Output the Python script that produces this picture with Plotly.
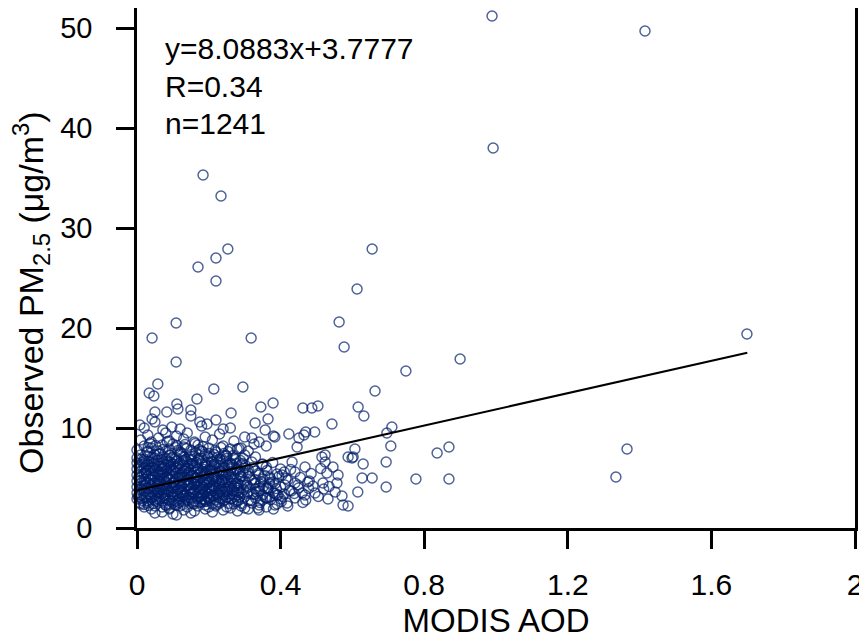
import plotly.graph_objects as go

# ---- data ----
outliers = [(0.989, 51.2), (1.415, 49.7), (0.992, 38.0), (0.184, 35.3), (0.234, 33.2),
            (0.253, 27.9), (0.655, 27.9), (0.170, 26.1), (0.220, 27.0), (0.220, 24.7),
            (0.613, 23.9), (0.563, 20.6), (0.109, 20.5), (0.042, 19.0), (0.318, 19.0),
            (0.577, 18.1), (1.699, 19.4), (0.900, 16.9), (0.109, 16.6), (0.749, 15.7),
            (0.663, 13.7), (0.214, 13.9), (0.295, 14.1), (1.365, 7.9), (1.334, 5.1),
            (0.836, 7.5), (0.869, 8.1), (0.869, 4.9), (0.777, 4.9), (0.694, 4.1)]

fringe = [(0.058, 14.4), (0.034, 13.5), (0.047, 13.2), (0.167, 12.9), (0.111, 12.4),
          (0.114, 11.9), (0.150, 11.8), (0.262, 11.5), (0.345, 12.1), (0.379, 12.5),
          (0.462, 12.0), (0.050, 11.6), (0.083, 11.6), (0.042, 10.9), (0.150, 11.2),
          (0.175, 10.6), (0.195, 10.4), (0.329, 10.5), (0.365, 10.9), (0.357, 9.8),
          (0.008, 10.3), (0.097, 10.1), (0.072, 9.8), (0.240, 9.9), (0.300, 9.1),
          (0.423, 9.4), (0.465, 9.3), (0.02, 10.0), (0.05, 10.6), (0.12, 9.9),
          (0.18, 10.2), (0.22, 10.8), (0.26, 10.0)]

tail = [(0.487, 12.0), (0.504, 12.2), (0.470, 9.6), (0.495, 9.6), (0.451, 9.0),
        (0.384, 9.1), (0.279, 7.9), (0.326, 8.4), (0.446, 8.1), (0.515, 7.1),
        (0.418, 2.5), (0.384, 2.3), (0.362, 3.0), (0.337, 2.0), (0.468, 3.3),
        (0.496, 3.5), (0.448, 4.3), (0.476, 4.6), (0.404, 5.3), (0.440, 5.6),
        (0.468, 6.1), (0.432, 6.6), (0.412, 4.3), (0.365, 4.0), (0.393, 3.3),
        (0.616, 12.1), (0.632, 11.2), (0.543, 10.4), (0.710, 10.1), (0.696, 9.5),
        (0.707, 8.2), (0.607, 7.9), (0.588, 7.1), (0.602, 7.1), (0.599, 7.0),
        (0.630, 6.4), (0.694, 6.6), (0.627, 5.0), (0.655, 5.0), (0.615, 3.6),
        (0.552, 3.6), (0.532, 2.9), (0.571, 3.2), (0.574, 2.3), (0.588, 2.2),
        (0.560, 5.3), (0.546, 6.1), (0.524, 7.3), (0.529, 5.5), (0.557, 4.5),
        (0.518, 4.5), (0.524, 6.6)]

core = [
    (0.04, 1.9), (0.07, 1.6), (0.10, 1.4), (0.11, 1.3), (0.13, 1.8), (0.16, 1.7), (0.19, 1.9),
    (0.21, 1.6), (0.24, 1.8), (0.28, 1.7), (0.31, 1.9), (0.05, 1.5), (0.15, 1.5), (0.26, 2.0),
    (0.09, 1.9), (0.34, 1.8), (0.38, 1.9),
    (0.01, 2.4), (0.02, 2.1), (0.03, 2.5), (0.05, 2.2), (0.06, 2.6), (0.08, 2.3), (0.09, 2.0),
    (0.10, 2.5), (0.12, 2.2), (0.13, 2.6), (0.14, 2.1), (0.16, 2.4), (0.17, 2.2), (0.18, 2.6),
    (0.20, 2.1), (0.21, 2.4), (0.22, 2.2), (0.23, 2.5), (0.25, 2.1), (0.27, 2.4), (0.29, 2.2),
    (0.30, 2.0), (0.32, 2.5), (0.34, 2.3), (0.36, 2.1), (0.39, 2.4), (0.42, 2.2), (0.11, 2.3),
    (0.07, 2.1), (0.19, 2.3),
    (0.00, 2.9), (0.02, 3.1), (0.03, 2.7), (0.04, 3.0), (0.05, 2.8), (0.06, 3.2), (0.07, 2.7),
    (0.08, 3.0), (0.09, 2.8), (0.10, 3.1), (0.11, 2.7), (0.12, 2.9), (0.13, 3.2), (0.14, 2.8),
    (0.15, 3.0), (0.16, 2.7), (0.17, 3.1), (0.18, 2.9), (0.19, 2.7), (0.20, 3.0), (0.21, 3.2),
    (0.22, 2.8), (0.23, 3.0), (0.24, 2.7), (0.25, 3.1), (0.26, 2.9), (0.28, 2.8), (0.30, 3.1),
    (0.31, 2.7), (0.33, 3.0), (0.35, 2.8), (0.37, 3.1), (0.40, 2.9), (0.44, 3.0), (0.47, 2.8),
    (0.36, 3.0),
    (0.00, 3.5), (0.01, 3.3), (0.02, 3.7), (0.03, 3.4), (0.04, 3.6), (0.05, 3.3), (0.06, 3.5),
    (0.07, 3.8), (0.08, 3.4), (0.09, 3.6), (0.10, 3.3), (0.11, 3.7), (0.12, 3.5), (0.13, 3.3),
    (0.14, 3.6), (0.15, 3.4), (0.16, 3.8), (0.17, 3.5), (0.18, 3.3), (0.19, 3.6), (0.20, 3.4),
    (0.21, 3.7), (0.22, 3.5), (0.23, 3.3), (0.24, 3.6), (0.25, 3.4), (0.27, 3.7), (0.28, 3.3),
    (0.29, 3.5), (0.31, 3.6), (0.32, 3.4), (0.34, 3.7), (0.35, 3.3), (0.38, 3.5), (0.41, 3.4),
    (0.43, 3.7), (0.46, 3.5), (0.39, 3.3),
    (0.00, 4.1), (0.01, 3.9), (0.02, 4.3), (0.03, 4.0), (0.04, 4.2), (0.05, 3.9), (0.06, 4.4),
    (0.07, 4.1), (0.08, 3.9), (0.09, 4.2), (0.10, 4.0), (0.11, 4.3), (0.12, 4.1), (0.13, 3.9),
    (0.14, 4.2), (0.15, 4.0), (0.16, 4.4), (0.17, 4.1), (0.18, 3.9), (0.19, 4.3), (0.20, 4.0),
    (0.21, 4.2), (0.22, 3.9), (0.23, 4.4), (0.24, 4.1), (0.25, 3.9), (0.26, 4.2), (0.28, 4.0),
    (0.29, 4.3), (0.31, 4.1), (0.33, 3.9), (0.34, 4.2), (0.36, 4.0), (0.37, 4.4), (0.40, 4.1),
    (0.45, 4.0), (0.49, 4.2), (0.52, 3.9),
    (0.00, 4.7), (0.01, 4.5), (0.02, 4.9), (0.03, 4.6), (0.04, 4.8), (0.05, 4.5), (0.06, 4.7),
    (0.07, 5.0), (0.08, 4.6), (0.09, 4.8), (0.10, 4.5), (0.11, 4.9), (0.12, 4.7), (0.13, 4.5),
    (0.14, 4.8), (0.15, 4.6), (0.16, 5.0), (0.17, 4.7), (0.18, 4.5), (0.19, 4.8), (0.20, 4.6),
    (0.21, 4.9), (0.22, 4.7), (0.23, 4.5), (0.24, 4.8), (0.25, 4.6), (0.27, 4.9), (0.28, 4.5),
    (0.30, 4.7), (0.32, 4.8), (0.33, 4.5), (0.35, 4.9), (0.38, 4.6), (0.42, 4.8), (0.44, 4.5),
    (0.48, 4.7),
    (0.00, 5.3), (0.01, 5.1), (0.02, 5.5), (0.03, 5.2), (0.04, 5.4), (0.05, 5.1), (0.06, 5.6),
    (0.07, 5.3), (0.08, 5.1), (0.09, 5.4), (0.10, 5.2), (0.11, 5.5), (0.12, 5.3), (0.13, 5.1),
    (0.14, 5.4), (0.15, 5.2), (0.16, 5.6), (0.17, 5.3), (0.18, 5.1), (0.19, 5.5), (0.20, 5.2),
    (0.21, 5.4), (0.22, 5.1), (0.23, 5.6), (0.24, 5.3), (0.26, 5.1), (0.27, 5.4), (0.29, 5.2),
    (0.31, 5.5), (0.34, 5.3), (0.37, 5.1), (0.39, 5.4), (0.41, 5.6),
    (0.00, 5.9), (0.01, 5.7), (0.02, 6.1), (0.03, 5.8), (0.04, 6.0), (0.05, 5.7), (0.06, 6.2),
    (0.07, 5.9), (0.08, 5.7), (0.09, 6.0), (0.10, 5.8), (0.11, 6.1), (0.12, 5.9), (0.13, 5.7),
    (0.14, 6.0), (0.15, 5.8), (0.16, 6.2), (0.17, 5.9), (0.18, 5.7), (0.19, 6.1), (0.20, 5.8),
    (0.21, 6.0), (0.23, 5.7), (0.24, 6.1), (0.26, 5.9), (0.28, 5.8), (0.30, 6.0), (0.33, 5.7),
    (0.36, 6.1), (0.40, 5.9),
    (0.00, 6.5), (0.01, 6.3), (0.02, 6.7), (0.03, 6.4), (0.04, 6.6), (0.05, 6.3), (0.06, 6.8),
    (0.07, 6.5), (0.08, 6.3), (0.09, 6.6), (0.10, 6.4), (0.11, 6.7), (0.12, 6.5), (0.13, 6.3),
    (0.14, 6.6), (0.15, 6.4), (0.17, 6.8), (0.18, 6.5), (0.19, 6.3), (0.21, 6.6), (0.22, 6.4),
    (0.24, 6.7), (0.26, 6.5), (0.29, 6.3), (0.32, 6.6), (0.35, 6.4),
    (0.00, 7.0), (0.01, 7.3), (0.02, 6.9), (0.03, 7.2), (0.05, 7.0), (0.06, 7.4), (0.07, 7.1),
    (0.08, 6.9), (0.09, 7.3), (0.11, 7.0), (0.12, 7.4), (0.13, 7.1), (0.15, 6.9), (0.16, 7.2),
    (0.18, 7.0), (0.19, 7.4), (0.21, 7.1), (0.23, 6.9), (0.25, 7.2), (0.27, 7.0), (0.30, 7.3),
    (0.33, 7.1),
    (0.00, 7.8), (0.02, 8.2), (0.03, 7.6), (0.04, 8.0), (0.06, 7.7), (0.07, 8.3), (0.09, 7.9),
    (0.10, 8.4), (0.12, 7.6), (0.13, 8.1), (0.15, 7.8), (0.17, 8.3), (0.18, 7.7), (0.20, 8.0),
    (0.22, 7.6), (0.24, 8.2), (0.26, 7.9), (0.29, 8.0), (0.31, 7.7), (0.36, 8.2),
    (0.01, 8.8), (0.03, 9.3), (0.04, 8.6), (0.06, 9.0), (0.08, 9.5), (0.09, 8.7), (0.11, 9.2),
    (0.13, 8.9), (0.14, 9.5), (0.16, 8.6), (0.19, 9.1), (0.21, 8.8), (0.23, 9.4), (0.27, 8.7),
    (0.32, 9.0), (0.34, 8.6), (0.38, 9.2),
]

core_extra = [
    (0.015, 2.75), (0.035, 3.35), (0.045, 2.45), (0.055, 3.95), (0.065, 4.55), (0.075, 3.25),
    (0.085, 5.15), (0.095, 2.65), (0.105, 4.75), (0.115, 3.85), (0.125, 5.45), (0.135, 2.95),
    (0.145, 4.35), (0.155, 3.55), (0.165, 5.05), (0.175, 2.55), (0.185, 4.65), (0.195, 3.15),
    (0.205, 5.75), (0.215, 4.05), (0.225, 3.45), (0.235, 4.85), (0.245, 2.85), (0.255, 5.35),
    (0.265, 3.75), (0.275, 4.45), (0.285, 3.05), (0.295, 5.55),
    (0.015, 4.15), (0.025, 5.65), (0.035, 4.85), (0.045, 6.05), (0.055, 2.95), (0.065, 5.25),
    (0.075, 6.35), (0.085, 3.65), (0.095, 5.85), (0.105, 2.35), (0.115, 6.25), (0.125, 4.25),
    (0.135, 5.95), (0.145, 3.05), (0.155, 6.45), (0.165, 4.15), (0.175, 5.45), (0.185, 3.35),
    (0.195, 6.15), (0.205, 2.75), (0.215, 5.05), (0.225, 6.55), (0.235, 3.85), (0.245, 4.55),
    (0.255, 2.45), (0.265, 6.05), (0.275, 2.65), (0.285, 4.95),
    (0.015, 6.55), (0.025, 3.05), (0.035, 5.95), (0.045, 4.45), (0.055, 6.75), (0.065, 3.85),
    (0.075, 4.95), (0.085, 6.65), (0.095, 3.45), (0.105, 6.95), (0.115, 2.85), (0.125, 3.65),
    (0.135, 6.85), (0.145, 5.55), (0.155, 2.55), (0.165, 6.55), (0.175, 3.95), (0.185, 5.85),
    (0.195, 4.45), (0.205, 3.55), (0.215, 6.35), (0.225, 2.65), (0.235, 5.65), (0.245, 3.95),
    (0.255, 6.25), (0.265, 4.85), (0.275, 5.75), (0.285, 3.55), (0.305, 4.25), (0.325, 3.35),
    (0.345, 4.65), (0.365, 3.85), (0.385, 4.45), (0.405, 3.15), (0.425, 3.75),
]

core_more = [
    (0.005, 5.05), (0.012, 6.85), (0.022, 4.55), (0.028, 7.65), (0.032, 2.25), (0.038, 5.75),
    (0.042, 7.05), (0.048, 3.75), (0.052, 8.25), (0.058, 4.95), (0.062, 2.85), (0.068, 6.15),
    (0.072, 7.85), (0.078, 4.35), (0.082, 5.95), (0.088, 2.45), (0.092, 7.25), (0.098, 4.05),
    (0.102, 5.65), (0.108, 8.05), (0.112, 3.45), (0.118, 6.45), (0.122, 7.55), (0.128, 2.35),
    (0.132, 4.65), (0.138, 7.95), (0.142, 6.25), (0.148, 3.85), (0.152, 7.35), (0.158, 5.15),
    (0.162, 8.45), (0.168, 2.95), (0.172, 6.95), (0.178, 4.25), (0.182, 7.65), (0.188, 5.35),
    (0.192, 2.65), (0.198, 7.15), (0.202, 4.75), (0.208, 6.65), (0.212, 3.25), (0.218, 7.75),
    (0.222, 5.55), (0.228, 4.15), (0.232, 6.85), (0.238, 2.95), (0.242, 7.45), (0.248, 5.25),
    (0.252, 3.65), (0.258, 6.45), (0.262, 4.45), (0.268, 7.25), (0.272, 3.15), (0.278, 5.95),
    (0.282, 4.35), (0.288, 6.75), (0.292, 2.45), (0.298, 4.55), (0.302, 6.25), (0.308, 3.45),
    (0.312, 5.15), (0.318, 2.75), (0.322, 6.05), (0.328, 4.85), (0.332, 3.65), (0.338, 5.45),
    (0.342, 2.55), (0.348, 6.35), (0.352, 4.15), (0.358, 3.05), (0.362, 5.75), (0.368, 4.55),
    (0.372, 2.85), (0.378, 6.55), (0.388, 3.95), (0.395, 5.15), (0.402, 2.65), (0.415, 4.95),
    (0.428, 5.85), (0.438, 3.45), (0.455, 5.05), (0.462, 2.55), (0.478, 3.95), (0.485, 5.45),
    (0.505, 3.15), (0.512, 5.95), (0.535, 4.15),
    (0.008, 2.55), (0.018, 3.85), (0.026, 6.25), (0.036, 8.45), (0.044, 5.25), (0.054, 3.55),
    (0.064, 7.45), (0.074, 2.95), (0.084, 8.65), (0.094, 6.55), (0.104, 3.95), (0.114, 7.75),
    (0.124, 5.05), (0.134, 8.35), (0.144, 2.75), (0.154, 5.35), (0.164, 7.55), (0.174, 3.65),
    (0.184, 8.15), (0.194, 5.55), (0.204, 3.85), (0.214, 7.35), (0.224, 4.95), (0.234, 8.05),
    (0.244, 6.05), (0.254, 7.65), (0.264, 2.95), (0.274, 6.85), (0.284, 7.95), (0.294, 6.45),
]

core_fill = [
    (0.003, 3.15), (0.011, 4.75), (0.019, 2.35), (0.027, 5.45), (0.033, 6.65), (0.041, 3.05),
    (0.049, 7.35), (0.057, 4.15), (0.061, 5.35), (0.069, 3.45), (0.077, 6.05), (0.081, 2.25),
    (0.089, 4.95), (0.097, 7.05), (0.101, 3.65), (0.109, 5.95), (0.117, 2.55), (0.121, 4.45),
    (0.129, 6.75), (0.137, 3.35), (0.141, 5.25), (0.149, 7.15), (0.157, 2.45), (0.161, 4.35),
    (0.169, 5.85), (0.177, 3.15), (0.181, 6.35), (0.189, 2.85), (0.197, 4.95), (0.201, 7.45),
    (0.209, 3.95), (0.217, 5.35), (0.221, 2.35), (0.229, 6.25), (0.237, 4.65), (0.241, 3.25),
    (0.249, 6.95), (0.257, 4.05), (0.261, 5.65), (0.269, 3.35), (0.277, 6.45), (0.281, 2.75),
    (0.289, 5.15), (0.297, 3.85),
    (0.006, 6.15), (0.014, 2.95), (0.024, 4.35), (0.031, 8.05), (0.039, 4.05), (0.047, 6.45),
    (0.053, 2.65), (0.063, 4.75), (0.071, 5.55), (0.079, 7.65), (0.087, 3.85), (0.093, 6.25),
    (0.103, 4.55), (0.111, 8.25), (0.119, 5.05), (0.127, 3.15), (0.133, 5.75), (0.143, 4.25),
    (0.151, 6.75), (0.159, 3.55), (0.167, 4.65), (0.173, 7.85), (0.183, 4.05), (0.191, 6.55),
    (0.199, 2.95), (0.207, 5.85), (0.213, 4.25), (0.223, 7.05), (0.231, 3.65), (0.239, 5.45),
    (0.247, 7.25), (0.253, 4.85), (0.263, 6.35), (0.271, 4.15), (0.279, 3.75), (0.287, 5.65),
    (0.296, 6.95), (0.310, 5.85), (0.326, 4.45), (0.341, 3.95), (0.356, 5.25), (0.371, 4.95),
    (0.386, 3.45),
]

fit_slope = 8.0883
fit_intercept = 3.7777
fit_x = [0.0, 1.7]
stats_text = ["y=8.0883x+3.7777", "R=0.34", "n=1241"]
stats_y = [48.0, 44.2, 40.5]
x_ticks = [0, 0.4, 0.8, 1.2, 1.6, 2.0]
x_ticktext = ["0", "0.4", "0.8", "1.2", "1.6", "2"]
y_ticks = [0, 10, 20, 30, 40, 50]

points = core + core_extra + core_more + core_fill + fringe + tail + outliers
aod = [p[0] for p in points]
pm = [p[1] for p in points]

FONT = "Liberation Sans, Arial, sans-serif"
MCOL = "rgba(0,30,105,0.7)"

fig = go.Figure()
fig.add_trace(go.Scatter(
    x=aod, y=pm, mode="markers", cliponaxis=False,
    marker=dict(symbol="circle-open", size=10, color=MCOL,
                line=dict(width=1.45, color=MCOL)),
    hoverinfo="skip"))
fig.add_trace(go.Scatter(
    x=fit_x, y=[fit_intercept + fit_slope * v for v in fit_x],
    mode="lines", line=dict(color="black", width=2), hoverinfo="skip"))

for t, yv in zip(stats_text, stats_y):
    fig.add_annotation(x=0.0724, y=yv, xref="x", yref="y", text=t,
                       showarrow=False, xanchor="left", yanchor="middle",
                       font=dict(family=FONT, size=30, color="black"))

# y-axis title as a rotated annotation (sits a little below the plot middle, as in the source)
fig.add_annotation(x=0, y=0.452, xref="paper", yref="paper", xshift=-106,
                   text="Observed PM<sub>2.5</sub> (μg/m<sup>3</sup>)", textangle=-90,
                   showarrow=False, xanchor="center", yanchor="middle",
                   font=dict(family=FONT, size=34, color="black"))

fig.update_layout(
    width=859, height=633,
    margin=dict(l=129, r=12, t=0, b=113, autoexpand=False),
    plot_bgcolor="white", paper_bgcolor="white",
    showlegend=False,
    font=dict(family=FONT, size=28, color="black"),
)
fig.update_xaxes(
    range=[0, 2], tickvals=x_ticks, ticktext=x_ticktext,
    ticks="outside", ticklen=18, tickwidth=2.5, tickcolor="black",
    showline=True, linewidth=2.5, linecolor="black", mirror=True,
    showgrid=False, zeroline=False, automargin=False, ticklabelstandoff=10,
    tickfont=dict(family=FONT, size=30),
    title=dict(text="MODIS AOD", font=dict(family=FONT, size=33), standoff=10),
)
fig.update_yaxes(
    range=[0, 52.0], tickvals=y_ticks,
    ticks="outside", ticklen=18, tickwidth=2.5, tickcolor="black",
    showline=True, linewidth=2.5, linecolor="black", mirror=True,
    showgrid=False, zeroline=False, automargin=False, ticklabelstandoff=18,
    tickfont=dict(family=FONT, size=29),
)

fig.write_html("out.html")
